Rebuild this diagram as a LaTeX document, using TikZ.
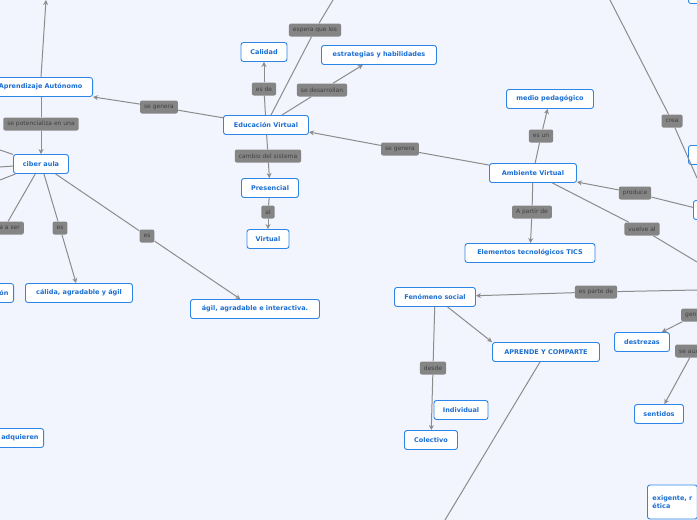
\documentclass[tikz,border=0pt]{standalone}
\usepackage{fontspec}
\setmainfont{DejaVu Sans}
\usetikzlibrary{arrows.meta}
\definecolor{bg}{HTML}{F2F5FE}
\definecolor{bl}{HTML}{2C86E8}
\definecolor{bt}{HTML}{1B6ED2}
\definecolor{lg}{HTML}{858585}
\definecolor{ln}{HTML}{8C8C8C}
\tikzset{
 x=1pt,y=-1pt,
 box/.style={draw=bl,line width=0.9pt,fill=white,rounded corners=2.5pt,text=bt,font=\bfseries\fontsize{6.5}{7.5}\selectfont,minimum height=19pt,inner xsep=5pt},
 lab/.style={fill=lg,rounded corners=2pt,text=black!75,font=\fontsize{6}{6.5}\selectfont,minimum height=13pt,inner xsep=4pt},
 con/.style={draw=ln,line width=1pt},
 arr/.style={con,-{Stealth[length=5pt,width=5pt]}}
}
\begin{document}
\begin{tikzpicture}
\fill[bg] (0,0) rectangle (697,520);
\useasboundingbox (0,0) rectangle (697,520);
% nodes
\node[box,anchor=east,minimum width=104pt] (apr) at (93,87) {Aprendizaje Autónomo};
\node[box,minimum width=55pt] (cib) at (41,164) {ciber aula};
\node[box,minimum width=85pt] (edu) at (266,125) {Educación Virtual};
\node[box,minimum width=46pt] (cal) at (264,52) {Calidad};
\node[box,minimum width=115pt] (est) at (379,55) {estrategias y habilidades};
\node[box,minimum width=57pt] (pre) at (270,188) {Presencial};
\node[box,minimum width=42pt] (vir) at (268,239) {Virtual};
\node[box,minimum width=87pt] (med) at (550,99) {medio pedagógico};
\node[box,minimum width=87pt] (amb) at (533,173) {Ambiente Virtual};
\node[box,minimum width=130pt] (ele) at (530,253) {Elementos tecnológicos TICS};
\node[box,minimum width=81pt] (fen) at (435,297) {Fenómeno social};
\node[box,minimum width=107pt] (apc) at (546,352) {APRENDE Y COMPARTE};
\node[box,minimum width=54pt] (ind) at (461,410) {Individual};
\node[box,minimum width=53pt] (col) at (431,440) {Colectivo};
\node[box,minimum width=55pt] (des) at (642,342) {destrezas};
\node[box,minimum width=49pt] (sen) at (659,414) {sentidos};
\node[box,minimum width=107pt] (cal2) at (79,293) {cálida, agradable y ágil};
\node[box,minimum width=129pt] (agi) at (255,309) {ágil, agradable e interactiva.};
\node[box,anchor=east] (on) at (14,293) {ción};
\node[box,anchor=east] (adq) at (44,438) {adquieren};
\node[box,anchor=west,align=left,minimum height=34pt] (exi) at (647,502) {exigente, r\\ética};
\node[box,anchor=west,minimum width=20pt] (r1) at (688,155) {\phantom{x}};
\node[box,anchor=west,minimum width=20pt] (r2) at (693,210) {\phantom{x}};
\node[box,anchor=west,minimum width=20pt] (r3) at (688,-6) {\phantom{x}};
\coordinate (top1) at (46,0);
\coordinate (top2) at (333,0);
\coordinate (top3) at (610,0);
\coordinate (rv) at (697,262);
\coordinate (rp) at (697,290);
\coordinate (rs) at (697,355);
\coordinate (bot) at (445,520);
\coordinate (l1) at (0,150);
\coordinate (l2) at (0,167);
\coordinate (l3) at (0,180);
% labels
\node[lab] (l_esp) at (315,30) {espera que los};
\node[lab] (l_esde) at (264,89) {es de};
\node[lab] (l_sed) at (322,90) {se desarrollan};
\node[lab] (l_sg1) at (159,107) {se genera};
\node[lab] (l_pot) at (41,124) {se potencializa en una};
\node[lab] (l_cam) at (268,156) {cambio del sistema};
\node[lab] (l_al) at (268,212) {al};
\node[lab] (l_sg2) at (400,149) {se genera};
\node[lab] (l_esun) at (541,136) {es un};
\node[lab] (l_apd) at (532,212) {A partir de};
\node[lab] (l_pro) at (635,193) {produce};
\node[lab] (l_vue) at (642,229) {vuelve al};
\node[lab] (l_cre) at (672,121) {crea};
\node[lab] (l_epd) at (596,292) {es parte de};
\node[lab] (l_des) at (433,368) {desde};
\node[lab,anchor=west] (l_gen) at (681,315) {genera};
\node[lab,anchor=west] (l_sea) at (675,351) {se auxilia};
\node[lab,anchor=east] (l_aser) at (24,228) {pasa a ser};
\node[lab] (l_es1) at (60,228) {es};
\node[lab] (l_es2) at (147,236) {es};
% connectors
\draw[arr] (apr.north -| 41,0) -- (top1);
\draw[con] (edu) -- (l_sg1); \draw[arr] (l_sg1) -- (apr.south east);
\draw[con] (apr.south -| 41,0) -- (l_pot); \draw[arr] (l_pot) -- (cib);
\draw[con] (cib) -- (l1); \draw[con] (cib) -- (l2); \draw[con] (cib) -- (l3);
\draw[con] (cib) -- (l_aser);
\draw[con] (cib) -- (l_es1); \draw[arr] (l_es1) -- (cal2);
\draw[con] (cib) -- (l_es2); \draw[arr] (l_es2) -- (agi);
\draw[con] (edu) -- (l_esde); \draw[arr] (l_esde) -- (cal);
\draw[con] (edu) -- (l_sed); \draw[arr] (l_sed) -- (est);
\draw[con] (edu.north) ++(5,0) -- (l_esp); \draw[con] (l_esp) -- (top2);
\draw[con] (edu) -- (l_cam); \draw[arr] (l_cam) -- (pre);
\draw[con] (pre) -- (l_al); \draw[arr] (l_al) -- (vir);
\draw[con] (amb) -- (l_sg2); \draw[arr] (l_sg2) -- (edu.east |- 0,132);
\draw[con] (amb) -- (l_esun); \draw[arr] (l_esun) -- (med);
\draw[con] (amb) -- (l_apd); \draw[arr] (l_apd) -- (ele);
\draw[con] (r2) -- (l_pro); \draw[arr] (l_pro) -- (amb.east |- 0,182);
\draw[con] (amb) -- (l_vue); \draw[con] (l_vue) -- (rv);
\draw[con] (top3) -- (l_cre); \draw[con] (l_cre) -- (697,178);
\draw[con] (rp) -- (l_epd); \draw[arr] (l_epd) -- (fen);
\draw[arr] (fen) -- (apc.north west);
\draw[con] (fen) -- (l_des); \draw[arr] (l_des) -- (col);
\draw[con] (apc) -- (bot);
\draw[arr] (l_gen) -- (des);
\draw[con] (rs) -- (l_sea); \draw[arr] (l_sea) -- (sen);
\end{tikzpicture}
\end{document}
